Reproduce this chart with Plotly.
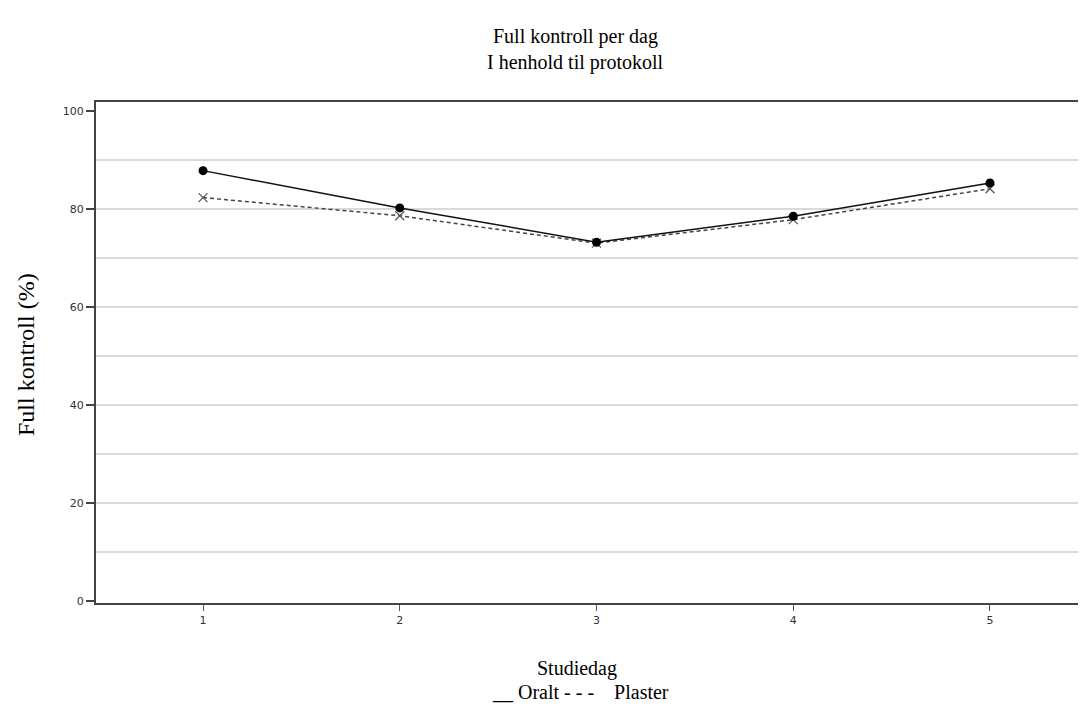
import plotly.graph_objects as go

days = [1, 2, 3, 4, 5]
oralt = [87.8, 80.2, 73.2, 78.5, 85.3]
plaster = [82.3, 78.6, 73.0, 77.8, 84.1]
y_ticks = [0, 20, 40, 60, 80, 100]
grid_vals = [10, 20, 30, 40, 50, 60, 70, 80, 90]

OFF = 8  # page body margin
W, H = 1086 - OFF, 713 - OFF
ML, MT, MB, MR = 96 - OFF, 102 - OFF, 110, 0

fig = go.Figure()
fig.add_trace(go.Scatter(x=days, y=plaster, mode="lines+markers", name="Plaster",
                         line=dict(color="#444444", width=1.5, dash="4px,3px"),
                         marker=dict(symbol="x-thin-open", size=9, color="#555555",
                                     line=dict(width=1.2, color="#555555"))))
fig.add_trace(go.Scatter(x=days, y=oralt, mode="lines+markers", name="Oralt",
                         line=dict(color="#111111", width=1.5),
                         marker=dict(symbol="circle", size=9, color="#000000")))
fig.add_trace(go.Scatter(x=[days[0]], y=[grid_vals[0]], yaxis="y2", mode="markers",
                         marker=dict(opacity=0), hoverinfo="skip", showlegend=False))

yr = [-0.4, 101.8]
fig.update_layout(
    width=W, height=H,
    margin=dict(l=ML, r=MR, t=MT, b=MB),
    paper_bgcolor="white", plot_bgcolor="white",
    showlegend=False,
    xaxis=dict(range=[0.456, 5.488], tickvals=days, ticktext=[str(d) for d in days],
               showgrid=False, zeroline=False,
               showline=True, linecolor="#444444", linewidth=2, mirror=True,
               ticks="outside", ticklen=6, tickcolor="#555555", tickwidth=1,
               tickfont=dict(family="DejaVu Sans", size=11, color="#333333")),
    yaxis=dict(range=yr, tickvals=y_ticks, showgrid=False, zeroline=False,
               showline=True, linecolor="#444444", linewidth=2,
               ticks="outside", ticklen=8, tickcolor="#444444", tickwidth=1.5,
               tickfont=dict(family="DejaVu Sans", size=11, color="#333333")),
    yaxis2=dict(range=yr, overlaying="y", tickvals=grid_vals, showticklabels=False,
                showgrid=True, gridcolor="#d9d9d9", gridwidth=1.5, zeroline=False,
                showline=False, ticks=""),
)

pw = W - ML - MR
ph = H - MT - MB


def px_x(x):
    return (x - OFF - ML) / pw


def px_y(y):
    return (H - MB - (y - OFF)) / ph


NB = "\u00a0"
legend_text = "__" + NB + "Oralt" + NB + "-" + NB + "-" + NB + "-" + NB * 4 + "Plaster"

serif = "Liberation Serif"
texts = [
    ("Full kontroll per dag", 575, 37, 20, 0),
    ("I henhold til protokoll", 575, 62, 20, 0),
    ("Studiedag", 577, 668, 20, 0),
    (legend_text, 580, 692, 20, 0),
    ("Full kontroll (%)", 26, 355, 24, -90),
]
fig.layout.annotations = [
    dict(text=t, x=px_x(x), y=px_y(y), xref="paper", yref="paper",
         xanchor="center", yanchor="middle", textangle=ang, showarrow=False,
         font=dict(family=serif, size=s, color="black"))
    for t, x, y, s, ang in texts
]

fig.write_html("out.html")
